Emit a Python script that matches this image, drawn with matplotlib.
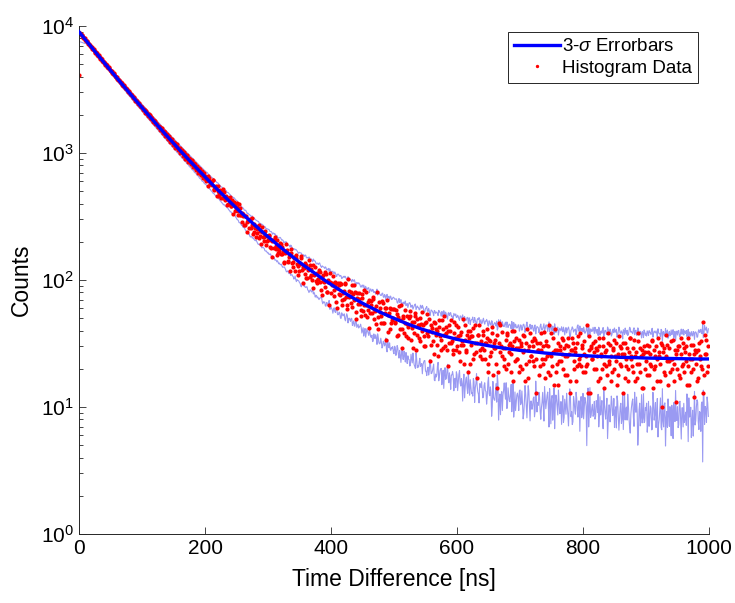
import numpy as np
import matplotlib
matplotlib.use("Agg")
import matplotlib.pyplot as plt
from matplotlib.ticker import LogLocator, FixedLocator

plt.rcParams["font.family"] = ["Liberation Sans", "DejaVu Sans"]
plt.rcParams["mathtext.fontset"] = "custom"
plt.rcParams["mathtext.rm"] = "Liberation Sans"
plt.rcParams["mathtext.it"] = "Liberation Sans:italic"

# histogram, 1 ns bins: even bins (0, 2, 4 ...) and odd bins (1, 3, 5 ...)
counts_even = [
    4100, 8690, 8560, 8200, 8110, 7750, 7640, 7310, 7230, 6940,
    6870, 6540, 6460, 6170, 6120, 5850, 5790, 5520, 5470, 5230,
    5190, 4930, 4900, 4680, 4650, 4410, 4390, 4180, 4170, 3960,
    3950, 3760, 3730, 3550, 3540, 3370, 3350, 3180, 3170, 3010,
    3010, 2850, 2850, 2700, 2700, 2560, 2570, 2430, 2440, 2300,
    2300, 2190, 2200, 2060, 2080, 1960, 1980, 1850, 1870, 1770,
    1790, 1690, 1690, 1590, 1610, 1510, 1530, 1430, 1460, 1360,
    1380, 1300, 1320, 1230, 1250, 1170, 1200, 1110, 1140, 1050,
    1090, 1010, 1040, 950, 990, 905, 940, 860, 890, 825,
    860, 780, 815, 745, 780, 705, 745, 670, 710, 640,
    659, 604, 661, 598, 569, 591, 614, 516, 543, 549,
    500, 457, 511, 482, 446, 490, 442, 455, 395, 426,
    450, 386, 389, 409, 349, 378, 347, 395, 326, 337,
    328, 273, 320, 285, 295, 259, 303, 269, 229, 274,
    260, 236, 264, 214, 244, 261, 220, 201, 228, 203,
    205, 222, 179, 204, 205, 178, 186, 206, 164, 170,
    191, 161, 168, 138, 169, 171, 138, 151, 176, 135,
    127, 148, 150, 133, 110, 136, 149, 119, 127, 111,
    131, 103, 120, 131, 109, 100, 131, 112, 99, 113,
    102, 115, 84, 106, 98, 88, 111, 81, 100, 113,
    79, 94, 84, 97, 67, 87, 91, 76, 93, 70,
    82, 94, 73, 64, 82, 75, 66, 91, 70, 80,
    56, 72, 79, 65, 58, 72, 84, 53, 64, 58,
    70, 55, 63, 74, 49, 57, 62, 41, 67, 56,
    52, 66, 46, 55, 60, 39, 55, 60, 46, 50,
    59, 47, 54, 37, 62, 48, 41, 50, 38, 58,
    45, 35, 50, 52, 42, 29, 47, 55, 37, 44,
    35, 50, 40, 44, 30, 46, 54, 36, 40, 31,
    42, 33, 47, 37, 40, 25, 43, 34, 48, 29,
    37, 43, 28, 40, 32, 48, 33, 28, 38, 44,
    30, 36, 23, 39, 33, 31, 44, 27, 37, 19,
    40, 31, 36, 24, 44, 27, 32, 37, 25, 33,
    29, 40, 24, 32, 35, 19, 33, 27, 38, 29,
    34, 22, 14, 46, 27, 30, 39, 24, 29, 20,
    37, 27, 32, 19, 30, 40, 23, 29, 24, 34,
    21, 30, 27, 36, 16, 32, 28, 23, 38, 25,
    30, 21, 34, 24, 28, 18, 32, 28, 22, 39,
    24, 31, 19, 44, 26, 25, 35, 15, 28, 22,
    32, 23, 28, 35, 20, 29, 25, 18, 30, 26,
    16, 28, 32, 23, 29, 21, 36, 22, 25, 31,
    19, 26, 21, 44, 13, 28, 30, 24, 32, 20,
    29, 25, 16, 30, 26, 20, 35, 22, 28, 18,
    32, 22, 25, 19, 29, 34, 23, 15, 26, 30,
    21, 26, 32, 17, 24, 29, 20, 35, 25, 21,
    29, 16, 27, 22, 33, 19, 25, 28, 14, 27,
    23, 31, 18, 26, 21, 34, 20, 25, 30, 16,
    27, 22, 32, 10, 29, 18, 25, 31, 23, 19,
    33, 24, 16, 28, 26, 20, 30, 17, 35, 22,
    19, 27, 30, 21, 15, 24, 31, 20, 26, 28,
    22, 17, 32, 25, 21, 47, 18, 26, 34, 21,
]
counts_odd = [
    8820, 8590, 8450, 8080, 7990, 7620, 7560, 7240, 7130, 6810,
    6640, 6560, 6280, 6210, 5940, 5890, 5610, 5570, 5310, 5250,
    5010, 4990, 4750, 4720, 4480, 4460, 4240, 4230, 4020, 3990,
    3810, 3790, 3600, 3590, 3410, 3400, 3230, 3220, 3060, 3050,
    2890, 2900, 2740, 2750, 2590, 2610, 2460, 2480, 2330, 2350,
    2210, 2240, 2080, 2130, 1980, 2010, 1880, 1910, 1780, 1810,
    1700, 1730, 1600, 1640, 1520, 1560, 1440, 1480, 1370, 1400,
    1300, 1350, 1230, 1280, 1160, 1220, 1100, 1170, 1050, 1100,
    1000, 1060, 945, 1010, 900, 965, 850, 915, 815, 875,
    780, 830, 735, 795, 700, 760, 665, 720, 630, 690,
    608, 649, 554, 636, 593, 555, 615, 508, 535, 458,
    549, 487, 442, 498, 521, 430, 450, 389, 441, 404,
    385, 425, 333, 390, 370, 404, 324, 370, 327, 288,
    322, 272, 319, 240, 289, 299, 259, 306, 239, 257,
    219, 253, 272, 221, 193, 240, 219, 242, 188, 223,
    225, 182, 206, 152, 205, 217, 174, 157, 180, 196,
    161, 182, 136, 164, 193, 141, 161, 118, 164, 139,
    153, 117, 158, 129, 118, 134, 154, 94, 124, 135,
    104, 125, 145, 105, 121, 86, 110, 127, 94, 102,
    119, 96, 76, 109, 97, 115, 80, 97, 63, 97,
    92, 108, 75, 92, 60, 94, 77, 95, 63, 79,
    71, 93, 59, 101, 73, 81, 61, 77, 91, 49,
    79, 65, 71, 52, 77, 57, 64, 80, 51, 67,
    42, 68, 55, 71, 59, 45, 80, 51, 60, 46,
    68, 46, 60, 34, 69, 53, 41, 59, 48, 59,
    46, 58, 36, 51, 41, 63, 29, 52, 46, 36,
    52, 43, 57, 34, 47, 38, 52, 28, 49, 44,
    33, 45, 56, 36, 30, 47, 38, 49, 23, 44,
    39, 26, 46, 41, 31, 48, 36, 28, 41, 52,
    30, 38, 21, 44, 40, 32, 26, 47, 35, 28,
    43, 27, 37, 31, 49, 22, 34, 28, 40, 35,
    22, 36, 42, 26, 32, 17, 37, 44, 28, 24,
    37, 28, 32, 41, 22, 34, 25, 43, 18, 32,
    29, 37, 19, 32, 44, 25, 29, 21, 34, 38,
    22, 31, 26, 40, 16, 33, 35, 24, 29, 19,
    32, 20, 37, 28, 22, 41, 17, 30, 25, 33,
    23, 35, 13, 32, 28, 21, 38, 24, 30, 17,
    33, 25, 30, 18, 38, 21, 27, 41, 19, 28,
    15, 30, 23, 26, 34, 18, 31, 25, 35, 13,
    28, 35, 20, 27, 16, 32, 24, 38, 21, 29,
    33, 19, 25, 22, 36, 13, 29, 24, 27, 33,
    20, 28, 35, 17, 25, 30, 14, 27, 21, 38,
    23, 31, 16, 28, 20, 25, 32, 18, 36, 22,
    29, 13, 26, 32, 21, 16, 27, 35, 24, 19,
    34, 25, 17, 38, 22, 29, 14, 26, 30, 20,
    18, 27, 30, 22, 33, 14, 28, 21, 24, 35,
    25, 16, 31, 27, 19, 37, 23, 15, 29, 24,
    20, 34, 22, 11, 28, 30, 18, 26, 21, 32,
    29, 23, 15, 35, 26, 19, 24, 31, 12, 27,
    16, 28, 24, 33, 20, 13, 37, 26, 19, 30,
]

# fitted decay curve
fit_time = list(range(0, 501, 10)) + list(range(520, 1001, 20))
fit_counts = [
    9004, 7816, 6790, 5903, 5137, 4474, 3901, 3404, 2974, 2601,
    2277, 1996, 1752, 1539, 1354, 1194, 1053, 931, 824, 731,
    649, 577, 514, 460, 411, 368, 330, 297, 268, 242,
    219, 199, 181, 165, 151, 138, 127, 117, 108, 99.5,
    92.3, 85.8, 79.9, 74.6, 69.9, 65.7, 61.8, 58.4, 55.2, 52.5,
    49.9,
    45.4, 41.7, 38.8, 36.2, 34.1, 32.5, 31.0, 29.8, 28.8, 27.9,
    27.3, 26.6, 26.1, 25.7, 25.4, 25.1, 24.85, 24.6, 24.5, 24.3,
    24.2, 24.1, 24.0, 23.9, 23.9,
]

counts = np.empty(len(counts_even) + len(counts_odd))
counts[0::2] = counts_even
counts[1::2] = counts_odd
t = np.arange(len(counts))

# 3-sigma band around the local (geometric) mean of the histogram
win = 21
kernel = np.ones(win)
log_mean = np.convolve(np.log(counts), kernel, mode="same") / np.convolve(np.ones_like(counts), kernel, mode="same")
centre = np.exp(log_mean)
sigma = np.sqrt(counts)
upper = centre + 3 * sigma
lower = np.clip(centre - 3 * sigma, 1.4, None)

fig = plt.figure(figsize=(7.35, 6.03), dpi=100)
ax = fig.add_axes([0.1075, 0.1144, 0.8571, 0.8425])

ax.plot(t, upper, color="#9a9af2", lw=0.8, zorder=1)
ax.plot(t, lower, color="#9a9af2", lw=0.8, zorder=1)
ax.plot(t, counts, ".", color="#ff0000", ms=4, zorder=2, label="Histogram Data")
ax.plot(fit_time, fit_counts, color="#0000ff", lw=2.4, zorder=3, label="3-$\\sigma$ Errorbars")

ax.set_yscale("log")
ax.set_xlim(0, 1000)
ax.set_ylim(1, 1e4)
ax.xaxis.set_major_locator(FixedLocator([0, 200, 400, 600, 800, 1000]))
ax.yaxis.set_major_locator(LogLocator(base=10, numticks=10))
ax.yaxis.set_minor_locator(LogLocator(base=10, subs=np.arange(2, 10), numticks=50))
ax.tick_params(which="both", direction="in", labelsize=15, color="#262626", width=0.6)
ax.tick_params(which="major", length=5)
ax.tick_params(which="minor", length=3)
ax.spines["top"].set_visible(False)
ax.spines["right"].set_visible(False)
for s in ["left", "bottom"]:
    ax.spines[s].set_color("#262626")
    ax.spines[s].set_linewidth(0.7)

ax.set_xlabel("Time Difference [ns]", fontsize=16.5, labelpad=7)
ax.set_ylabel("Counts", fontsize=16.5, labelpad=6)

handles, labels = ax.get_legend_handles_labels()
leg = ax.legend(handles[::-1], labels[::-1], loc="upper right", bbox_to_anchor=(0.9825, 0.988),
                borderaxespad=0, fontsize=13.5, fancybox=False, framealpha=1,
                edgecolor="#262626", handlelength=2.45, handletextpad=0.12,
                borderpad=0.32, labelspacing=0.25, markerscale=0.7)
leg.get_frame().set_linewidth(0.7)

fig.savefig("out.png", dpi=100)
